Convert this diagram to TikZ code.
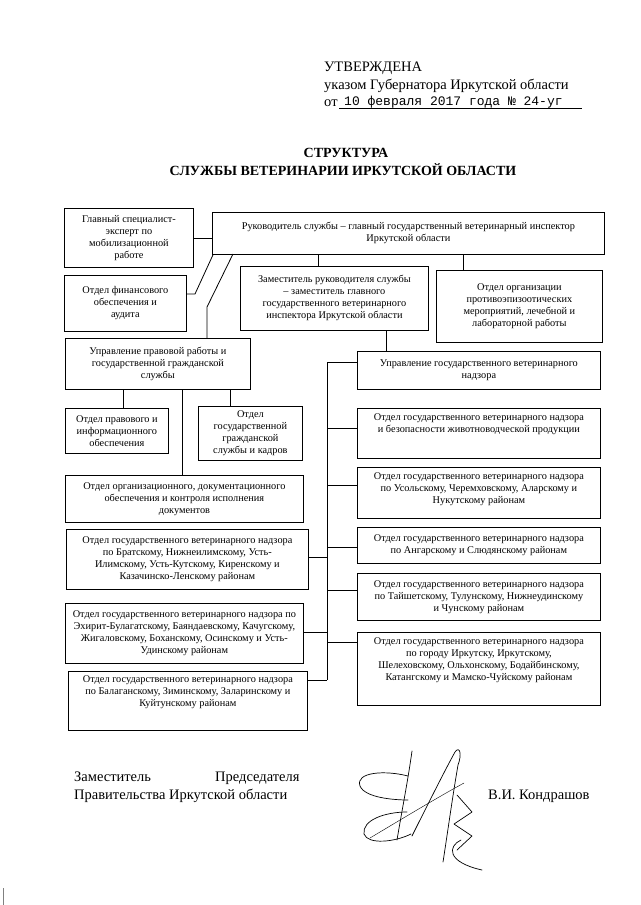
\documentclass[tikz,border=0pt]{standalone}
\usepackage{fontspec}
\setmainfont{Liberation Serif}
\newfontfamily\monofnt{Liberation Mono}
\newcommand{\boxfnt}{\fontsize{10.3}{12}\selectfont}
\newcommand{\tbc}[3]{\parbox[c][#2][c]{#1}{\centering #3\par}}
\newcommand{\tbt}[4]{\parbox[c][#2][t]{#1}{\centering\vspace*{#3}#4\par}}
\begin{document}
\begin{tikzpicture}[x=1pt,y=-1pt,
  box/.style={draw, line width=0.8pt, inner sep=0pt, anchor=north west, font=\boxfnt},
  conn/.style={line width=0.8pt},
  hdr/.style={anchor=base west, inner sep=0pt, font=\fontsize{14.5}{17}\selectfont},
  ttl/.style={anchor=base, inner sep=0pt, font=\fontsize{14}{17}\selectfont\bfseries}]
\fill[white] (0,0) rectangle (640,905);
\useasboundingbox (0,0) rectangle (640,905);

% header
\node[hdr] (h1) at (324,71) {УТВЕРЖДЕНА};
\node[hdr] (h2) at (324,89) {указом Губернатора Иркутской области};
\node[hdr] (h3) at (324,106) {от};
\node[anchor=base west, inner sep=0pt, font=\monofnt\fontsize{13}{15}\selectfont] (h4) at (344,105) {10 февраля 2017 года № 24-уг};
\coordinate (ul1) at (339,108);
\coordinate (ul2) at (582,108);
\draw[line width=0.6pt] (ul1) -- (ul2);

% title
\node[ttl] (t1) at (346,157) {СТРУКТУРА};
\node[ttl] (t2) at (343,175) {СЛУЖБЫ ВЕТЕРИНАРИИ ИРКУТСКОЙ ОБЛАСТИ};

% boxes
\node[box] (main) at (212,212) {\tbc{392pt}{42pt}{Руководитель службы – главный государственный ветеринарный инспектор\\Иркутской области}};
\node[box] (spec) at (64,208) {\tbc{129pt}{59pt}{Главный специалист-\\эксперт по\\мобилизационной\\работе}};
\node[box] (fin) at (64,275) {\tbc{122pt}{56pt}{Отдел финансового\\обеспечения и\\аудита}};
\node[box] (zam) at (240,266) {\tbc{188pt}{64pt}{Заместитель руководителя службы\\– заместитель главного\\государственного ветеринарного\\инспектора Иркутской области}};
\node[box] (org) at (436,270) {\tbc{166pt}{72pt}{Отдел организации\\противоэпизоотических\\мероприятий, лечебной и\\лабораторной работы}};

\node[box] (uprP) at (65,338) {\tbc{185pt}{51pt}{Управление правовой работы и\\государственной гражданской\\службы}};
\node[box] (otdP) at (65,408) {\tbc{103pt}{45pt}{Отдел правового и\\информационного\\обеспечения}};
\node[box] (oggs) at (198,406) {\tbc{104pt}{54pt}{Отдел\\государственной\\гражданской\\службы и кадров}};
\node[box] (orgd) at (65,475) {\tbc{238pt}{47pt}{Отдел организационного, документационного\\обеспечения и контроля исполнения\\документов}};
\node[box] (brat) at (66,529) {\tbc{242pt}{60pt}{Отдел государственного ветеринарного надзора\\по Братскому, Нижнеилимскому, Усть-\\Илимскому, Усть-Кутскому, Киренскому и\\Казачинско-Ленскому районам}};
\node[box] (ehir) at (65,603) {\tbc{238pt}{60pt}{Отдел государственного ветеринарного надзора по\\Эхирит-Булагатскому, Баяндаевскому, Качугскому,\\Жигаловскому, Боханскому, Осинскому и Усть-\\Удинскому районам}};
\node[box] (balag) at (68,671) {\tbt{239pt}{59pt}{4pt}{Отдел государственного ветеринарного надзора\\по Балаганскому, Зиминскому, Заларинскому и\\Куйтунскому районам}};

\node[box] (uprV) at (357,351) {\tbc{243pt}{38pt}{Управление государственного ветеринарного\\надзора}};
\node[box] (r1) at (357,408) {\tbt{243pt}{50pt}{5pt}{Отдел государственного ветеринарного надзора\\и безопасности животноводческой продукции}};
\node[box] (r2) at (357,467) {\tbt{243pt}{51pt}{5pt}{Отдел государственного ветеринарного надзора\\по Усольскому, Черемховскому, Аларскому и\\Нукутскому районам}};
\node[box] (r3) at (357,527) {\tbc{243pt}{36pt}{Отдел государственного ветеринарного надзора\\по Ангарскому и Слюдянскому районам}};
\node[box] (r4) at (357,573) {\tbc{243pt}{47pt}{Отдел государственного ветеринарного надзора\\по Тайшетскому, Тулунскому, Нижнеудинскому\\и Чунскому районам}};
\node[box] (r5) at (357,632) {\tbt{243pt}{73pt}{5pt}{Отдел государственного ветеринарного надзора\\по городу Иркутску, Иркутскому,\\Шелеховскому, Ольхонскому, Бодайбинскому,\\Катангскому и Мамско-Чуйскому районам}};

% connectors from head
\draw[conn] (spec.east) -- (spec.east -| main.west);
\coordinate (d1) at (195,294);
\draw[conn] ([xshift=1pt]main.south west) -- (d1) -- (d1 -| fin.east);
\coordinate (d2a) at (233,254);
\coordinate (d2b) at (207,307);
\draw[conn] (d2a) -- (d2b) -- (d2b |- uprP.north);
\coordinate (vz) at (318,0);
\draw[conn] (vz |- main.south) -- (vz |- zam.north);
\coordinate (vo) at (463,0);
\draw[conn] (vo |- main.south) -- (vo |- org.north);
\coordinate (vu) at (386,0);
\draw[conn] (vu |- zam.south) -- (vu |- uprV.north);

% left sub
\coordinate (l1) at (123,0);
\coordinate (l2) at (182,0);
\coordinate (l3) at (230,0);
\draw[conn] (l1 |- uprP.south) -- (l1 |- otdP.north);
\draw[conn] (l2 |- uprP.south) -- (l2 |- orgd.north);
\draw[conn] (l3 |- uprP.south) -- (l3 |- oggs.north);

% bus
\coordinate (bt) at (327,362);
\coordinate (bb) at (327,680);
\draw[conn] (bt) -- (bb);
\coordinate (b1) at (327,428);
\coordinate (b2) at (327,485);
\coordinate (b3) at (327,547);
\coordinate (b4) at (327,590);
\coordinate (b5) at (327,642);
\coordinate (b6) at (327,557);
\coordinate (b7) at (327,632);
\draw[conn] (bt) -- (bt -| uprV.west);
\draw[conn] (b1) -- (b1 -| r1.west);
\draw[conn] (b2) -- (b2 -| r2.west);
\draw[conn] (b3) -- (b3 -| r3.west);
\draw[conn] (b4) -- (b4 -| r4.west);
\draw[conn] (b5) -- (b5 -| r5.west);
\draw[conn] (b6) -- (b6 -| brat.east);
\draw[conn] (b7) -- (b7 -| ehir.east);
\draw[conn] (bb) -- (bb -| balag.east);

% signature block
\node[hdr] (s1) at (74,781) {Заместитель};
\node[hdr] (s2) at (215,781) {Председателя};
\node[hdr] (s3) at (74,799) {Правительства Иркутской области};
\node[hdr] (s4) at (488,799) {В.И. Кондрашов};

\begin{scope}[line width=0.7pt, line cap=round, line join=round]
\draw (412,751) .. controls (408,780) and (402,810) .. (397,840);
\draw (408,776) .. controls (385,770) and (355,772) .. (360,786) .. controls (365,798) and (395,800) .. (408,800);
\draw (407,812) .. controls (385,812) and (362,820) .. (364,834) .. controls (368,845) and (395,842) .. (411,834);
\draw (412,836) .. controls (425,810) and (445,770) .. (455,752) .. controls (460,745) and (462,755) .. (458,765) .. controls (452,800) and (448,830) .. (443,862);
\draw (457,795) -- (472,812) -- (454,824) -- (472,836) -- (457,850);
\draw[line width=0.4pt] (370,838) .. controls (400,820) and (440,796) .. (464,783);
\draw (461,840) .. controls (448,846) and (446,862) .. (482,870);
\end{scope}
\draw[line width=0.4pt, gray] (3,888) -- (3,905);
\end{tikzpicture}
\end{document}
